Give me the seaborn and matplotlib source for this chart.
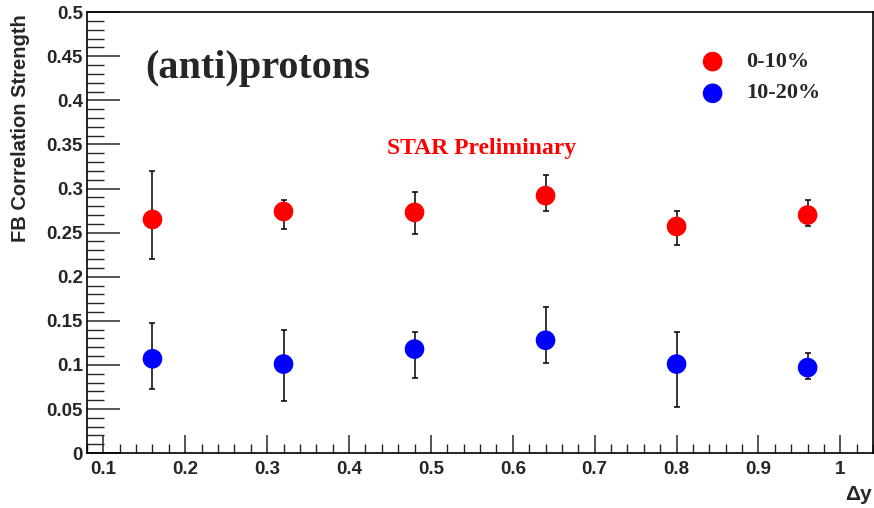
import numpy as np
import pandas as pd
import matplotlib
matplotlib.use("Agg")
import matplotlib.pyplot as plt
from matplotlib.ticker import MultipleLocator
import seaborn as sns

# ---- data ----
dy = [0.16, 0.32, 0.48, 0.64, 0.80, 0.96]
central_val = [0.265, 0.274, 0.273, 0.292, 0.257, 0.270]
central_err_lo = [0.045, 0.020, 0.025, 0.017, 0.021, 0.012]
central_err_hi = [0.055, 0.013, 0.023, 0.023, 0.018, 0.017]
periph_val = [0.107, 0.101, 0.118, 0.128, 0.101, 0.097]
periph_err_lo = [0.034, 0.042, 0.033, 0.026, 0.049, 0.013]
periph_err_hi = [0.040, 0.039, 0.019, 0.038, 0.036, 0.017]
series_names = ["0-10%", "10-20%"]
x_ticks = [0.1, 0.2, 0.3, 0.4, 0.5, 0.6, 0.7, 0.8, 0.9, 1.0]
y_ticks = [0, 0.05, 0.1, 0.15, 0.2, 0.25, 0.3, 0.35, 0.4, 0.45, 0.5]

df = pd.DataFrame({
    "dy": dy + dy,
    "val": central_val + periph_val,
    "lo": central_err_lo + periph_err_lo,
    "hi": central_err_hi + periph_err_hi,
    "cent": [series_names[0]] * len(dy) + [series_names[1]] * len(dy),
})
colors = {series_names[0]: "#ff0000", series_names[1]: "#0000ff"}

sns.set_theme(style="white")
plt.rcParams["font.family"] = ["Liberation Sans", "DejaVu Sans"]

fig = plt.figure(figsize=(8.74, 5.08), dpi=100)
ax = fig.add_axes([0.0995, 0.108, 0.8995, 0.868])

for name, g in df.groupby("cent", sort=False):
    ax.errorbar(g["dy"], g["val"], yerr=[g["lo"], g["hi"]], fmt="none",
                ecolor="black", elinewidth=1.1, capsize=2, capthick=1.1, zorder=2)

sns.scatterplot(data=df, x="dy", y="val", hue="cent", palette=colors,
                s=200, edgecolor="none", linewidth=0, legend=False, ax=ax, zorder=3)

ax.set_xlim(0.08, 1.04)
ax.set_ylim(0, 0.5)
ax.set_xticks(x_ticks)
ax.set_xticklabels(["0.1", "0.2", "0.3", "0.4", "0.5", "0.6", "0.7", "0.8", "0.9", "1"])
ax.set_yticks(y_ticks)
ax.set_yticklabels(["0", "0.05", "0.1", "0.15", "0.2", "0.25", "0.3", "0.35", "0.4", "0.45", "0.5"])
ax.xaxis.set_minor_locator(MultipleLocator(0.02))
ax.yaxis.set_minor_locator(MultipleLocator(0.01))
ax.tick_params(axis="y", which="major", direction="in", length=24, width=1.1,
               labelsize=13.5, pad=3, left=True, right=False)
ax.tick_params(axis="y", which="minor", direction="in", length=12, width=1.0, left=True, right=False)
ax.tick_params(axis="x", which="major", direction="in", length=13, width=1.1,
               labelsize=13.5, pad=6, bottom=True, top=False)
ax.tick_params(axis="x", which="minor", direction="in", length=6.5, width=1.0, bottom=True, top=False)
for lab in ax.get_xticklabels() + ax.get_yticklabels():
    lab.set_fontweight("bold")
for sp in ax.spines.values():
    sp.set_color("black")
    sp.set_linewidth(1.2)

ax.set_xlabel("")
ax.set_ylabel("")
fig.text(0.023, 0.972, "FB Correlation Strength", rotation=90, ha="center", va="top",
         fontsize=14.5, fontweight="bold")
fig.text(0.997, 0.027, "\u0394y", ha="right", va="center", fontsize=15, fontweight="bold")

ax.text(0.151, 0.436, "(anti)protons", ha="left", va="center", fontsize=29,
        fontweight="bold", family="Liberation Serif")
ax.text(0.5625, 0.345, "STAR Preliminary", ha="center", va="center", fontsize=17,
        fontweight="bold", color="#ff0000", family="Liberation Serif")

# legend
ax.scatter([0.844], [0.444], s=200, color=colors[series_names[0]], edgecolor="none", zorder=3)
ax.scatter([0.844], [0.408], s=200, color=colors[series_names[1]], edgecolor="none", zorder=3)
ax.text(0.8845, 0.444, series_names[0], ha="left", va="center", fontsize=16,
        fontweight="bold", family="Liberation Serif")
ax.text(0.8845, 0.408, series_names[1], ha="left", va="center", fontsize=16,
        fontweight="bold", family="Liberation Serif")

fig.savefig("out.png", dpi=100)
